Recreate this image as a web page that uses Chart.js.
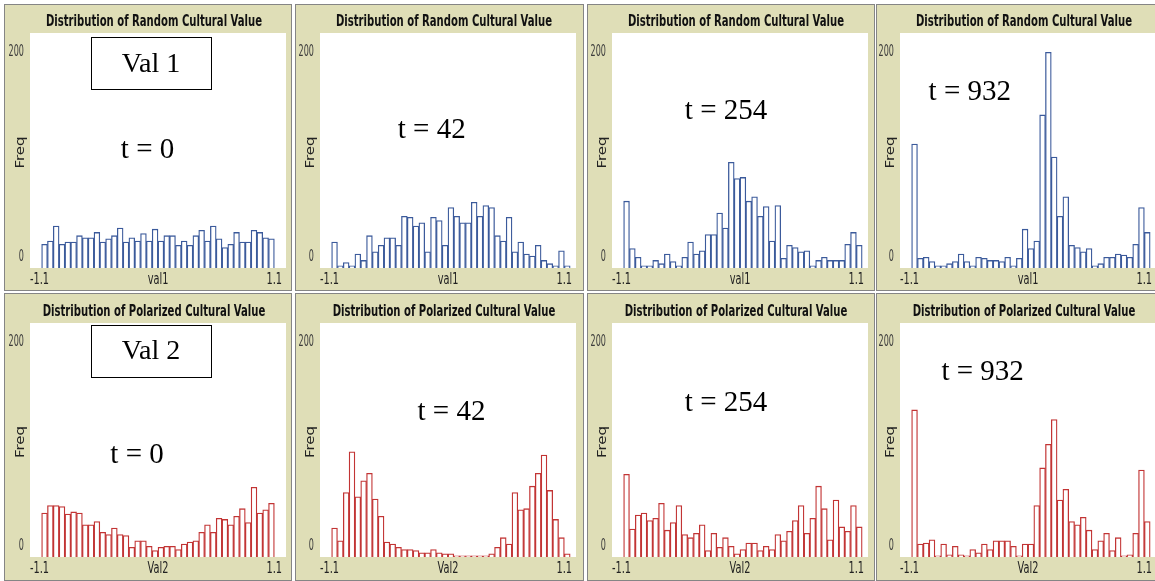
<!DOCTYPE html>
<html>
<head>
<meta charset="utf-8">
<script src="https://cdn.jsdelivr.net/npm/chart.js@4/dist/chart.umd.min.js"></script>
<style>
  html, body { margin: 0; padding: 0; background: #ffffff; width: 1155px; height: 581px; overflow: hidden; }
  canvas { position: absolute; }
</style>
</head>
<body>
<script>
// Histogram bins: 0.05 wide, first bin starts at -1
const binStart = -1.0;
const binWidth = 0.05;

// Axis labels
const xTickLabels = ['-1.1', '1.1'];
const yTickLabels = ['0', '200'];
const xAxisNames = ['val1', 'Val2'];
const yAxisName = 'Freq';
const plotTitles = ['Distribution of Random Cultural Value', 'Distribution of Polarized Cultural Value'];
const timeSteps = ['t = 0', 't = 42', 't = 254', 't = 932'];
const rowTags = ['Val 1', 'Val 2'];

// Frequencies of the random cultural value (val1)
const val1T0   = [22, 25, 39, 22, 24, 24, 30, 28, 28, 33, 24, 27, 30, 37, 24, 28, 25, 32, 25, 36,
                  25, 30, 30, 21, 25, 21, 30, 35, 25, 39, 27, 19, 22, 33, 24, 24, 35, 33, 28, 27];
const val1T42  = [24, 2, 5, 2, 13, 7, 30, 15, 21, 28, 28, 21, 48, 47, 39, 42, 15, 47, 44, 21,
                  56, 48, 42, 42, 61, 48, 58, 56, 30, 25, 47, 15, 24, 13, 11, 21, 7, 4, 2, 16, 2];
const val1T254 = [62, 18, 10, 2, 2, 7, 4, 13, 6, 2, 10, 24, 13, 16, 31, 31, 51, 37, 98, 83,
                  84, 62, 66, 48, 57, 25, 58, 9, 21, 19, 15, 16, 2, 7, 10, 7, 7, 7, 22, 33, 21];
const val1T932 = [115, 9, 10, 6, 2, 2, 4, 6, 13, 6, 2, 10, 9, 7, 7, 6, 10, 2, 9, 36,
                  18, 25, 142, 200, 103, 48, 66, 21, 19, 15, 18, 2, 4, 10, 10, 13, 12, 10, 22, 56, 33];

// Frequencies of the polarized cultural value (Val2)
const val2T0   = [41, 48, 48, 47, 40, 42, 41, 30, 30, 33, 23, 21, 27, 21, 20, 9, 15, 15, 10, 6,
                  9, 10, 10, 7, 12, 14, 15, 23, 30, 23, 36, 35, 30, 38, 45, 32, 65, 41, 44, 50];
const val2T42  = [27, 15, 60, 98, 56, 71, 78, 54, 38, 14, 12, 9, 7, 7, 6, 4, 4, 7, 4, 3,
                  3, 1, 1, 1, 1, 1, 1, 3, 9, 18, 12, 60, 44, 45, 66, 78, 95, 62, 35, 18, 3];
const val2T254 = [77, 26, 39, 41, 34, 36, 50, 25, 32, 48, 21, 18, 22, 30, 6, 22, 9, 18, 10, 3,
                  7, 13, 13, 6, 10, 7, 21, 15, 24, 34, 48, 22, 36, 66, 45, 16, 53, 28, 24, 48, 28];
const val2T932 = [137, 12, 13, 16, 1, 12, 2, 10, 2, 1, 7, 4, 12, 7, 15, 15, 15, 10, 1, 12,
                  12, 48, 83, 105, 128, 53, 63, 33, 30, 37, 25, 7, 15, 22, 6, 18, 1, 2, 22, 81, 33];

// Text anchors in data units [x, y]
const stepLabelPos = [
  [[-0.09, 109], [-0.14, 128], [-0.12, 145], [-0.50, 163]],
  [[-0.18, 95],  [ 0.03, 135], [-0.12, 143], [-0.39, 172]]
];
const tagPos = [[-0.06, 190], [-0.06, 192]];

const rows = [
  { values: [val1T0, val1T42, val1T254, val1T932], color: '#3b5a9b' },
  { values: [val2T0, val2T42, val2T254, val2T932], color: '#c23434' }
];

// Panel geometry (page pixels)
const colLeft   = [4, 295, 587, 876];
const colWidth  = [288, 289, 288, 290];
const plotLeft  = [30, 320, 612, 900];
const rowTop    = [4, 293];
const rowHeight = [287, 288];
const plotTop   = [33, 323];
const plotBottom= [268, 557];
const plotWidth = 256;

const TAN = '#dfdeb7';
const SANS_C = '"DejaVu Sans Condensed", "DejaVu Sans"';

function squish(ctx, text, x, y, font, sx, align, color) {
  ctx.save();
  ctx.font = font;
  ctx.fillStyle = color;
  ctx.textBaseline = 'middle';
  ctx.textAlign = 'left';
  const w = ctx.measureText(text).width * sx;
  const left = align === 'center' ? x - w / 2 : (align === 'right' ? x - w : x);
  ctx.translate(left, y);
  ctx.scale(sx, 1);
  ctx.fillText(text, 0, 0);
  ctx.restore();
}

const framePlugin = {
  id: 'netlogoFrame',
  beforeDraw(chart) {
    const { ctx, chartArea: a, width, height } = chart;
    ctx.save();
    ctx.fillStyle = TAN;
    ctx.fillRect(0, 0, width, height);
    ctx.strokeStyle = '#858585';
    ctx.lineWidth = 1;
    ctx.strokeRect(0.5, 0.5, width - 1, height - 1);
    ctx.fillStyle = '#ffffff';
    ctx.fillRect(a.left, a.top, a.right - a.left, a.bottom - a.top);
    ctx.restore();
  },
  afterDraw(chart) {
    const { ctx, chartArea: a } = chart;
    const o = chart.options.plugins.netlogoFrame;
    const xs = chart.scales.x, ys = chart.scales.y;
    const cx = (a.left + a.right) / 2;

    // title
    const titleFont = 'bold 16px ' + SANS_C;
    ctx.save();
    ctx.font = titleFont;
    const sx = 216 / ctx.measureText(plotTitles[0]).width;
    ctx.restore();
    squish(ctx, o.title, cx - 4, a.top - 11, titleFont, sx, 'center', '#111');

    // y labels
    const numFont = '16px ' + SANS_C;
    squish(ctx, yTickLabels[1], a.left - 6, a.top + 19, numFont, 0.56, 'right', '#3a3a3a');
    squish(ctx, yTickLabels[0], a.left - 6, a.bottom - 11, numFont, 0.56, 'right', '#3a3a3a');
    ctx.save();
    ctx.translate(a.left - 9, (a.top + a.bottom) / 2 + 2);
    ctx.rotate(-Math.PI / 2);
    ctx.font = '15px "DejaVu Sans"';
    ctx.fillStyle = '#222';
    ctx.textAlign = 'center';
    ctx.textBaseline = 'middle';
    ctx.scale(1, 0.8);
    ctx.fillText(yAxisName, 0, 0);
    ctx.restore();

    // x labels
    const ly = a.bottom + 12;
    const xFont = '16px ' + SANS_C;
    squish(ctx, xTickLabels[0], a.left, ly, xFont, 0.68, 'left', '#222');
    squish(ctx, xTickLabels[1], a.right - 4, ly, xFont, 0.68, 'right', '#222');
    squish(ctx, o.xName, cx, ly, xFont, 0.68, 'center', '#222');

    // time step
    ctx.save();
    ctx.font = '29px "Liberation Serif", "Times New Roman", serif';
    ctx.fillStyle = '#000';
    ctx.textAlign = 'center';
    ctx.textBaseline = 'middle';
    ctx.fillText(o.step, xs.getPixelForValue(o.stepPos[0]), ys.getPixelForValue(o.stepPos[1]));
    ctx.restore();

    // row tag box
    if (o.tag) {
      const tx = xs.getPixelForValue(o.tagPos[0]);
      const ty = ys.getPixelForValue(o.tagPos[1]);
      ctx.save();
      ctx.fillStyle = '#fff';
      ctx.fillRect(tx - 60, ty - 26, 120, 52);
      ctx.strokeStyle = '#000';
      ctx.lineWidth = 1;
      ctx.strokeRect(Math.round(tx - 60) + 0.5, Math.round(ty - 26) + 0.5, 120, 52);
      ctx.font = '28px "Liberation Serif", "Times New Roman", serif';
      ctx.fillStyle = '#000';
      ctx.textAlign = 'center';
      ctx.textBaseline = 'middle';
      ctx.fillText(o.tag, tx, ty + 1);
      ctx.restore();
    }
  }
};

rows.forEach((row, r) => {
  row.values.forEach((vals, c) => {
    const cv = document.createElement('canvas');
    const w = colWidth[c], h = rowHeight[r];
    cv.width = w; cv.height = h;
    cv.style.left = colLeft[c] + 'px';
    cv.style.top = rowTop[r] + 'px';
    document.body.appendChild(cv);

    const padL = plotLeft[c] - colLeft[c];
    const padT = plotTop[r] - rowTop[r];
    const padR = w - padL - plotWidth;
    const padB = h - (plotBottom[r] - rowTop[r]);

    new Chart(cv, {
      type: 'bar',
      data: {
        datasets: [{
          data: vals.map((v, i) => ({ x: binStart + binWidth * (i + 0.5), y: v })),
          backgroundColor: '#ffffff',
          borderColor: row.color,
          borderWidth: 1.3,
          barPercentage: 1,
          categoryPercentage: 1
        }]
      },
      options: {
        responsive: false,
        animation: false,
        events: [],
        layout: { padding: { left: padL, top: padT, right: padR, bottom: padB } },
        scales: {
          x: { type: 'linear', min: -1.1, max: 1.1, offset: false, display: false },
          y: { min: 0, max: 218, display: false }
        },
        plugins: {
          legend: { display: false },
          tooltip: { enabled: false },
          netlogoFrame: {
            title: plotTitles[r],
            xName: xAxisNames[r],
            step: timeSteps[c],
            stepPos: stepLabelPos[r][c],
            tag: c === 0 ? rowTags[r] : null,
            tagPos: tagPos[r]
          }
        }
      },
      plugins: [framePlugin]
    });
  });
});
</script>
</body>
</html>
